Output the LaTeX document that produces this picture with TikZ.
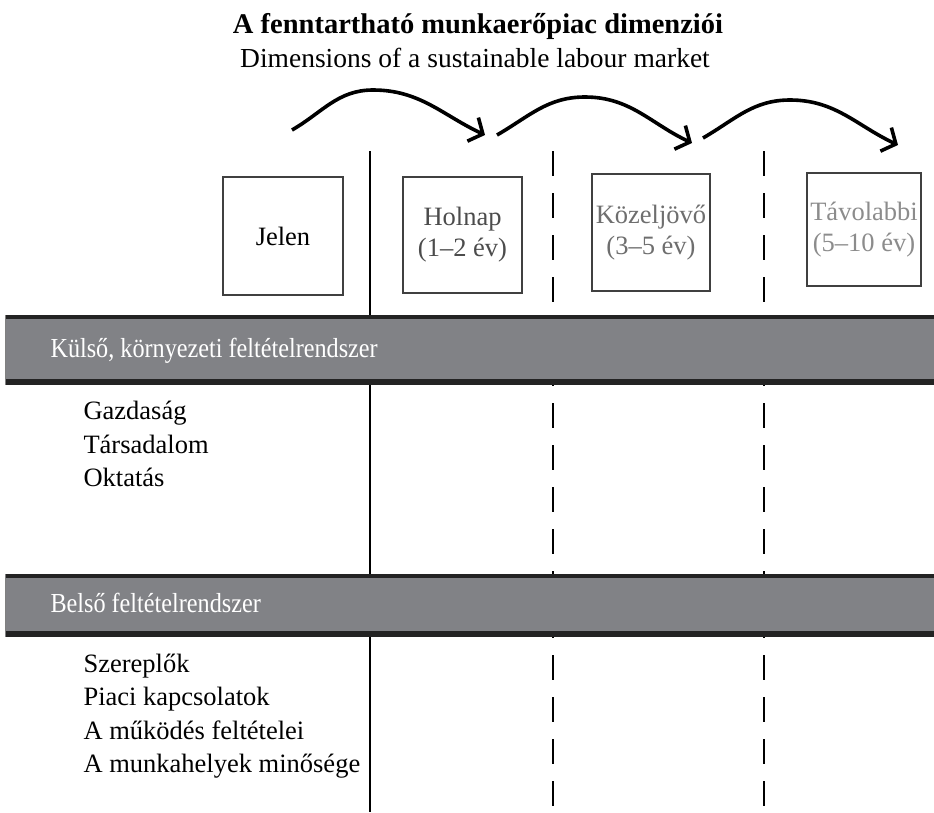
\documentclass[tikz,border=0pt]{standalone}
\usepackage{fontspec}
\setmainfont{Liberation Serif}
\newfontfamily\barfont[FakeStretch=0.88]{Liberation Serif}
\usetikzlibrary{arrows.meta}
\definecolor{bargray}{RGB}{129,130,134}
\definecolor{bardark}{RGB}{35,35,35}

\begin{document}
\begin{tikzpicture}[x=1pt,y=-1pt,>={Straight Barb[length=11pt,width=26pt]},
 txt/.style={font=\fontsize{26.5}{31}\selectfont},
 box/.style={draw=black!75,line width=1.4pt,fill=white,inner sep=0pt,align=center,txt},
 barlabel/.style={font=\barfont\fontsize{27.5}{31}\selectfont,text=white,anchor=base west},
 item/.style={txt,anchor=base west},
 hop/.style={->,line width=3.6pt},
 sep/.style={line width=2.6pt},
 dsep/.style={sep,dash pattern=on 25pt off 17pt}]
\useasboundingbox (0,0) rectangle (934,812);
% title
\node[font=\fontsize{28.5}{32}\selectfont\bfseries,anchor=base] (title) at (478,33) {A fenntartható munkaerőpiac dimenziói};
\node[font=\fontsize{27.5}{32}\selectfont,anchor=base] (subtitle) at (475,67) {Dimensions of a sustainable labour market};
% time boxes
\node[box,minimum width=120pt,minimum height=118pt] (jelen) at (283,236) {Jelen};
\node[box,text=black!70,minimum width=119pt,minimum height=116pt] (holnap) at (462.5,235) {Holnap\\(1--2 év)};
\node[box,text=black!57,minimum width=118pt,minimum height=117pt] (kozel) at (651,232.5) {Közeljövő\\(3--5 év)};
\node[box,text=black!45,minimum width=114pt,minimum height=113pt] (tavol) at (864,229.5) {Távolabbi\\(5--10 év)};
% separators
\coordinate (s0t) at (370,151); \coordinate (s0b) at (370,812);
\coordinate (s1t) at (553,151); \coordinate (s1b) at (553,812);
\coordinate (s2t) at (764,151); \coordinate (s2b) at (764,812);
\draw[sep] (s0t) -- (s0b);
\draw[dsep] (s1t) -- (s1b);
\draw[dsep] (s2t) -- (s2b);
% hops
\coordinate (a0) at (292,130); \coordinate (a1) at (485,135);
\coordinate (b0) at (497,135); \coordinate (b1) at (692,143);
\coordinate (c0) at (703,138); \coordinate (c1) at (898,145);
\draw[hop] (a0) to[out=30,in=180] ++(81,-40) to[out=0,in=155] (a1);
\draw[hop] (b0) to[out=30,in=180] ++(88,-38) to[out=0,in=155] (b1);
\draw[hop] (c0) to[out=30,in=180] ++(87,-38) to[out=0,in=155] (c1);
% external conditions
\fill[bargray] (5,315) rectangle (934,385);
\draw[bardark,line width=4pt] (5,317) -- (934,317);
\draw[bardark,line width=6pt] (5,382) -- (934,382);
\draw[black!50,line width=1pt] (5,315) -- (5,385);
\node[barlabel] (ext) at (47,357) {Külső, környezeti feltételrendszer};
\node[item] (gazd) at (80,419) {Gazdaság};
\node[item] (tars) at (80,453) {Társadalom};
\node[item] (okt) at (80,486) {Oktatás};
% internal conditions
\fill[bargray] (5,574) rectangle (934,637);
\draw[bardark,line width=4pt] (5,576) -- (934,576);
\draw[bardark,line width=6pt] (5,634) -- (934,634);
\draw[black!50,line width=1pt] (5,574) -- (5,637);
\node[barlabel] (int) at (47,612) {Belső feltételrendszer};
\node[item] (szer) at (80,672) {Szereplők};
\node[item] (piac) at (80,705) {Piaci kapcsolatok};
\node[item] (mukod) at (80,739) {A működés feltételei};
\node[item] (minos) at (80,772) {A munkahelyek minősége};
\end{tikzpicture}
\end{document}
